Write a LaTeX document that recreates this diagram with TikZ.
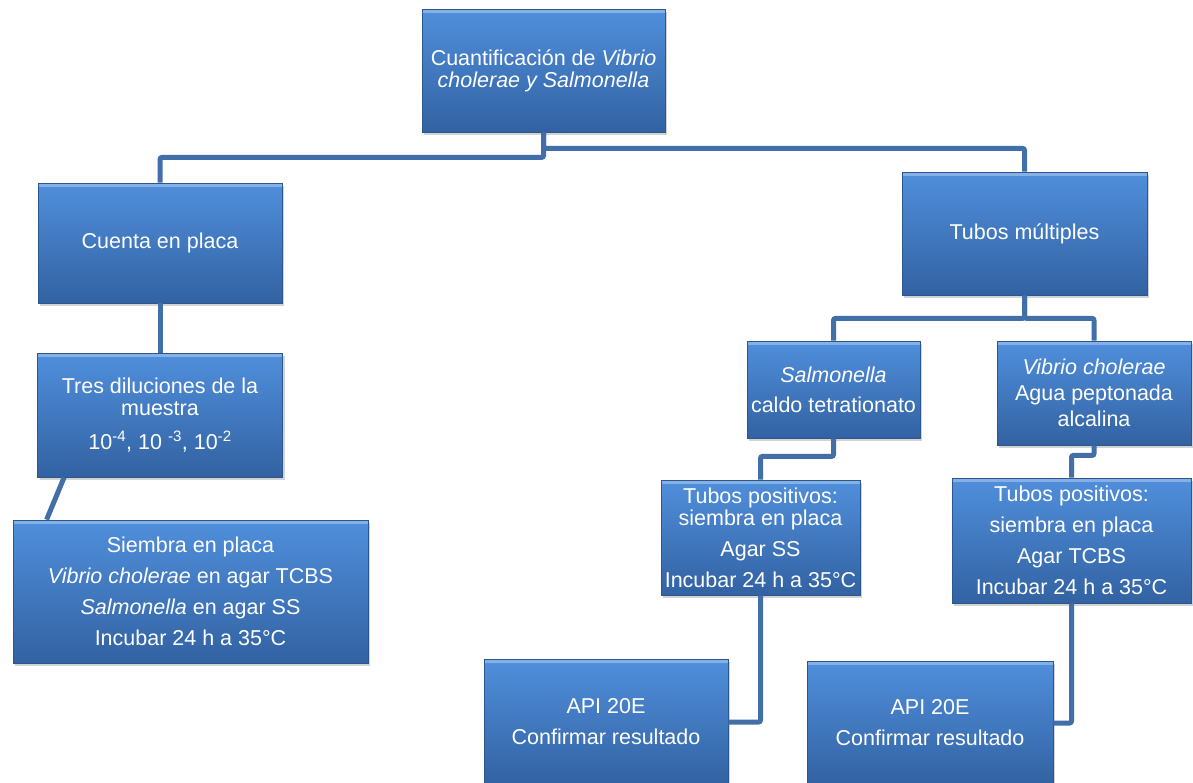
\documentclass[tikz,border=0pt]{standalone}
\usepackage{fontspec}
\setmainfont{Liberation Sans}
\usepackage{tikz}
\usetikzlibrary{positioning,shadows}
\definecolor{boxtop}{RGB}{80,143,220}
\definecolor{boxbot}{RGB}{50,98,162}
\definecolor{boxedge}{RGB}{44,86,142}
\definecolor{linkblue}{RGB}{66,111,168}
\tikzstyle{block} = [rectangle, draw=boxedge, line width=0.8pt, top color=boxtop, bottom color=boxbot,
    text=white, align=center, inner sep=0pt, font=\fontsize{21.5}{22}\selectfont,
    drop shadow={shadow xshift=2pt, shadow yshift=-3pt, opacity=0.35},
    path picture={\draw[white, opacity=0.3, line width=8pt] (path picture bounding box.north west)
      -- (path picture bounding box.north east);}]
\tikzstyle{link} = [linkblue, line width=5pt, rounded corners=2pt]

\begin{document}
\begin{tikzpicture}[x=1pt, y=-1pt]
\useasboundingbox (0,0) rectangle (1193,782);
\node[block, minimum width=243pt, minimum height=123pt] (cuant) at (543.5,70.5)
  {Cuantificación de \textit{Vibrio}\\\textit{cholerae y Salmonella}};
\node[block, below of=cuant, node distance=172.5pt, xshift=-383.5pt,
  minimum width=244pt, minimum height=120pt] (cuenta) {Cuenta en placa};
\node[block, below of=cuenta, node distance=172pt, minimum width=245pt, minimum height=124pt] (dilu)
  {Tres diluciones de la\\muestra\\[12pt]10\textsuperscript{-4}, 10 \textsuperscript{-3}, 10\textsuperscript{-2}};
\node[block, below of=dilu, node distance=176.5pt, xshift=30.5pt,
  minimum width=355pt, minimum height=143pt] (siembra)
  {Siembra en placa\\[9pt]\textit{Vibrio cholerae} en agar TCBS\\[9pt]\textit{Salmonella} en agar SS\\[9pt]Incubar 24 h a 35°C};
\node[block, below of=cuant, node distance=163pt, xshift=481pt,
  minimum width=245pt, minimum height=123pt] (tubos) {Tubos múltiples};
\node[block, below of=tubos, node distance=156pt, xshift=-191pt,
  minimum width=173pt, minimum height=97pt] (salmo) {\textit{Salmonella}\\[8pt]caldo tetrationato};
\node[block, below of=tubos, node distance=159.5pt, xshift=69.5pt,
  minimum width=194pt, minimum height=104pt] (vibrio) {\textit{Vibrio cholerae}\\[4pt]Agua peptonada\\[4pt]alcalina};
\node[block, below of=salmo, node distance=148pt, xshift=-73pt,
  minimum width=199pt, minimum height=115pt] (possal)
  {Tubos positivos:\\siembra en placa\\[9pt]Agar SS\\[9pt]Incubar 24 h a 35°C};
\node[block, below of=vibrio, node distance=147.5pt, xshift=-22.5pt,
  minimum width=239pt, minimum height=125pt] (posvib)
  {Tubos positivos:\\[9pt]siembra en placa\\[9pt]Agar TCBS\\[9pt]Incubar 24 h a 35°C};
\node[block, below of=possal, node distance=184.5pt, xshift=-154.5pt,
  minimum width=244pt, minimum height=126pt] (apisal) {API 20E\\[9pt]Confirmar resultado};
\node[block, below of=posvib, node distance=182.5pt, xshift=-141.5pt,
  minimum width=246pt, minimum height=124pt] (apivib) {API 20E\\[9pt]Confirmar resultado};
\draw[link] (cuant.south) -- ++(0,25) -| (cuenta.north);
\draw[link] (cuant.south) -- ++(0,16) -| (tubos.north);
\draw[link] (cuenta.south) -- (dilu.north);
\draw[link] ([xshift=27pt]dilu.south west) -- ([xshift=34pt]siembra.north west);
\draw[link] (tubos.south) -- ++(0,23) -| (salmo.north);
\draw[link] (tubos.south) -- ++(0,23) -| (vibrio.north);
\draw[link] (salmo.south) -- ++(0,18) -| (possal.north);
\draw[link] (vibrio.south) -- ++(0,10) -| (posvib.north);
\draw[link] (possal.south) |- (apisal.east);
\draw[link] (posvib.south) |- (apivib.east);
\end{tikzpicture}
\end{document}
